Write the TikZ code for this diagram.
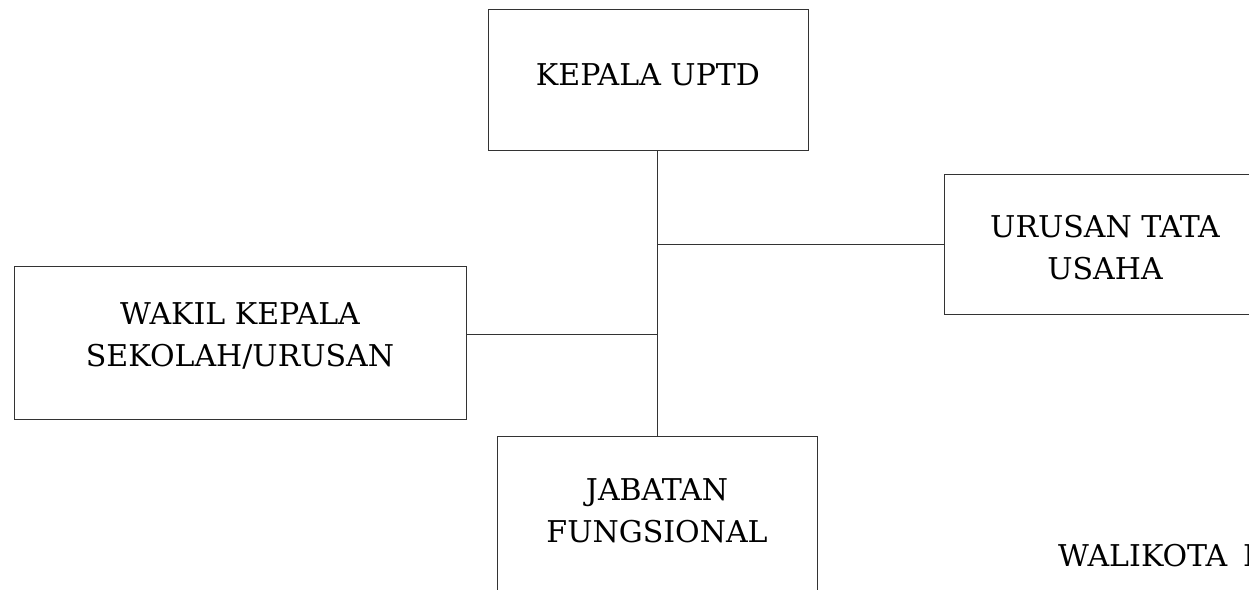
\documentclass[tikz,border=0pt]{standalone}
\usepackage{fontspec}
\setmainfont{DejaVu Serif}
\begin{document}
\begin{tikzpicture}[x=1pt,y=-1pt,
  box/.style={draw=black!80, line width=1.2pt, inner sep=0pt, anchor=north west},
  lbl/.style={font=\fontsize{30}{42}\selectfont, align=center, inner sep=0pt},
  conn/.style={draw=black!80, line width=1.2pt}]
\useasboundingbox (0,0) rectangle (1249,589);
\clip (0,0) rectangle (1249,589);
\node[box, minimum width=320pt, minimum height=141pt] (kepala) at (488,9) {};
\node[box, minimum width=400pt, minimum height=140pt] (urusan) at (944,174) {};
\node[box, minimum width=452pt, minimum height=153pt] (wakil) at (14,266) {};
\node[box, minimum width=320pt, minimum height=200pt] (jabatan) at (497,436) {};
\node[lbl] (tkepala) at (648,75) {KEPALA UPTD};
\node[lbl] (turusan) at (1105,248) {URUSAN TATA\\USAHA};
\node[lbl] (twakil) at (240,336) {WAKIL KEPALA\\SEKOLAH/URUSAN};
\node[lbl] (tjabatan) at (657,511) {JABATAN\\FUNGSIONAL};
\node[lbl, anchor=base west] (walikota) at (1058,566) {WALIKOTA\hspace{16pt}B};
\draw[conn] (jabatan.north) -- (jabatan.north |- kepala.south);
\draw[conn] (urusan.west) -- (urusan.west -| jabatan.north);
\draw[conn] ([yshift=8.5pt]wakil.east) -- ([yshift=8.5pt]wakil.east -| jabatan.north);
\end{tikzpicture}
\end{document}
